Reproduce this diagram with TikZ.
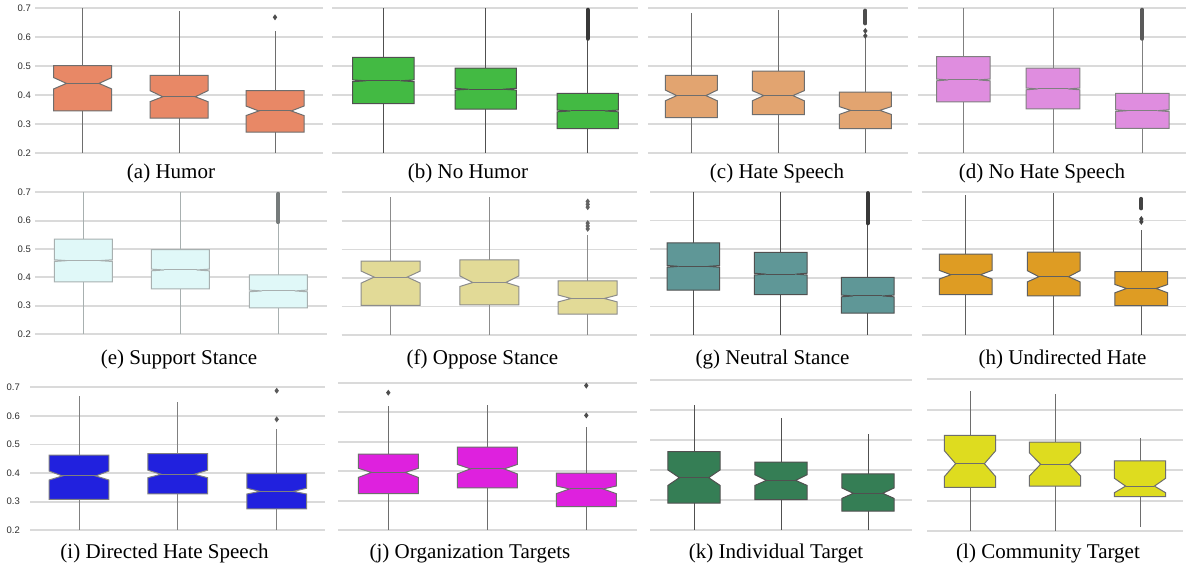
\documentclass[tikz,border=0pt]{standalone}
\usepackage{fontspec}
\setmainfont{Liberation Serif}
\newfontfamily\ticksf{Liberation Sans}
\definecolor{gridc}{HTML}{DADADA}
\definecolor{tickc}{HTML}{2E2E2E}
\definecolor{eA}{HTML}{6E6E6E}
\definecolor{eB}{HTML}{505050}
\definecolor{eC}{HTML}{808080}
\definecolor{eE}{HTML}{A8B0B0}
\definecolor{eF}{HTML}{8C8C8C}
\definecolor{eH}{HTML}{606060}
\definecolor{fa}{HTML}{E88866}
\definecolor{fb}{HTML}{43BA43}
\definecolor{fc}{HTML}{E2A470}
\definecolor{fd}{HTML}{DF8DDF}
\definecolor{fe}{HTML}{E0F8F8}
\definecolor{ff}{HTML}{E2DA97}
\definecolor{fg}{HTML}{5F9797}
\definecolor{fh}{HTML}{DE9C23}
\definecolor{fi}{HTML}{2121DE}
\definecolor{fj}{HTML}{DE21DE}
\definecolor{fk}{HTML}{357E55}
\definecolor{fl}{HTML}{DEDC1F}
\tikzset{
  gridl/.style={draw=gridc, line width=1.8pt},
  capt/.style={font=\fontsize{21}{24}\selectfont, anchor=base, inner sep=0pt},
  tickl/.style={font=\ticksf\fontsize{9.5}{11}\selectfont, text=tickc, anchor=east, inner sep=0pt},
}
\newcommand\setpanel[5]{\def\yb{#1}\def\pu{#2}\def\gxa{#3}\def\gxb{#4}\def\ec{#5}}
\newcommand\gridlines{%
  \foreach \v in {0.2,0.3,0.4,0.5,0.6,0.7}{%
    \pgfmathsetmacro\gy{\yb-(\v-0.2)*\pu}
    \draw[gridl] (\gxa,\gy) -- (\gxb,\gy);}}
\newcommand\ticklabels[2]{%
  \foreach \v/\n in {0.2/2,0.3/3,0.4/4,0.5/5,0.6/6,0.7/7}{%
    \pgfmathsetmacro\gy{\yb-(\v-0.2)*\pu}
    \node[tickl] (#2\n) at (#1,\gy) {\v};}}
\newcommand\bx[9]{%
  \pgfmathsetmacro\bxL{#1-#2}\pgfmathsetmacro\bxR{#1+#2}%
  \pgfmathsetmacro\bxLi{#1-0.56*#2}\pgfmathsetmacro\bxRi{#1+0.56*#2}%
  \pgfmathsetmacro\Yq{\yb-(#3-0.2)*\pu}\pgfmathsetmacro\Yqq{\yb-(#4-0.2)*\pu}%
  \pgfmathsetmacro\Ym{\yb-(#5-0.2)*\pu}\pgfmathsetmacro\Ynl{\yb-(#6-0.2)*\pu}%
  \pgfmathsetmacro\Ynh{\yb-(#7-0.2)*\pu}\pgfmathsetmacro\Ywl{\yb-(#8-0.2)*\pu}%
  \pgfmathsetmacro\Ywh{\yb-(#9-0.2)*\pu}%
  \draw[draw=\ec, line width=1pt] (#1,\Yqq) -- (#1,\Ywh);
  \draw[draw=\ec, line width=1pt] (#1,\Yq) -- (#1,\Ywl);
  \filldraw[fill=\bxfill, draw=\ec, line width=1pt, line join=miter]
    (\bxL,\Yq) -- (\bxL,\Ynl) -- (\bxLi,\Ym) -- (\bxL,\Ynh) -- (\bxL,\Yqq)
    -- (\bxR,\Yqq) -- (\bxR,\Ynh) -- (\bxRi,\Ym) -- (\bxR,\Ynl) -- (\bxR,\Yq) -- cycle;
  \draw[draw=\ec, line width=1pt] (\bxLi,\Ym) -- (\bxRi,\Ym);}
\newcommand\fl[2]{%
  \pgfmathsetmacro\fy{\yb-(#2-0.2)*\pu}%
  \fill[\ec!70!black] ({#1},{\fy-3}) -- ({#1+2.2},\fy) -- ({#1},{\fy+3}) -- ({#1-2.2},\fy) -- cycle;}
\newcommand\dn[3]{%
  \pgfmathsetmacro\fya{\yb-(#2-0.2)*\pu}\pgfmathsetmacro\fyb{\yb-(#3-0.2)*\pu}%
  \draw[\ec!70!black, line width=4pt, line cap=round] (#1,\fya) -- (#1,\fyb);}
\begin{document}
\begin{tikzpicture}[x=1pt,y=-1pt]
\fill[white] (0,0) rectangle (1186,567);
\useasboundingbox (0,0) rectangle (1186,567);
% ---------- (a)
\setpanel{153.3}{290}{35}{323}{eA}\def\bxfill{fa}
\gridlines \ticklabels{31}{ta}
\bx{82.7}{29}{0.346}{0.502}{0.441}{0.422}{0.461}{0.2}{0.7}
\bx{179}{29}{0.321}{0.469}{0.395}{0.378}{0.416}{0.2}{0.69}
\bx{275}{29}{0.273}{0.416}{0.346}{0.330}{0.363}{0.2}{0.62}
\fl{275}{0.669}
\node[capt] (capa) at (171,178.7) {(a) Humor};
% ---------- (b)
\setpanel{153.3}{290}{332}{638}{eB}\def\bxfill{fb}
\gridlines
\bx{383.3}{30.7}{0.371}{0.531}{0.450}{0.447}{0.453}{0.2}{0.7}
\bx{485.7}{30.7}{0.352}{0.494}{0.421}{0.418}{0.424}{0.2}{0.7}
\bx{587.7}{30.7}{0.285}{0.407}{0.346}{0.343}{0.349}{0.2}{0.59}
\dn{587.7}{0.595}{0.695}
\node[capt] (capb) at (468,178.7) {(b) No Humor};
% ---------- (c)
\setpanel{153.3}{290}{648}{908}{eA}\def\bxfill{fc}
\gridlines
\bx{691.3}{26}{0.323}{0.469}{0.399}{0.381}{0.418}{0.2}{0.685}
\bx{778.3}{26}{0.333}{0.483}{0.399}{0.381}{0.416}{0.2}{0.694}
\bx{865.3}{26}{0.285}{0.411}{0.348}{0.334}{0.361}{0.2}{0.597}
\dn{865.3}{0.648}{0.692}\fl{865.3}{0.622}\fl{865.3}{0.605}
\node[capt] (capc) at (777,178.7) {(c) Hate Speech};
% ---------- (d)
\setpanel{153.3}{290}{918}{1186}{eC}\def\bxfill{fd}
\gridlines
\bx{963.3}{26.8}{0.377}{0.533}{0.453}{0.450}{0.456}{0.2}{0.7}
\bx{1053}{26.8}{0.353}{0.494}{0.422}{0.419}{0.425}{0.2}{0.7}
\bx{1142.3}{26.8}{0.286}{0.407}{0.347}{0.344}{0.350}{0.2}{0.59}
\dn{1142.3}{0.595}{0.695}
\node[capt] (capd) at (1042,178.7) {(d) No Hate Speech};
% ---------- (e)
\setpanel{334}{283.3}{35}{326.7}{eE}\def\bxfill{fe}
\gridlines \ticklabels{31}{te}
\bx{83.3}{29}{0.384}{0.535}{0.459}{0.456}{0.462}{0.2}{0.7}
\bx{180.3}{29}{0.359}{0.498}{0.426}{0.423}{0.429}{0.2}{0.7}
\bx{278.3}{29}{0.292}{0.409}{0.352}{0.349}{0.355}{0.2}{0.59}
\dn{278.3}{0.595}{0.695}
\node[capt] (cape) at (179,364.5) {(e) Support Stance};
% ---------- (f)
\setpanel{335}{285.3}{341.7}{637.3}{eF}\def\bxfill{ff}
\gridlines
\bx{390.7}{29.5}{0.304}{0.459}{0.403}{0.382}{0.424}{0.2}{0.684}
\bx{489.3}{29.5}{0.306}{0.463}{0.384}{0.370}{0.407}{0.2}{0.684}
\bx{587.7}{29.5}{0.273}{0.390}{0.328}{0.316}{0.340}{0.2}{0.552}
\fl{587.7}{0.668}\fl{587.7}{0.658}\fl{587.7}{0.648}
\fl{587.7}{0.592}\fl{587.7}{0.582}\fl{587.7}{0.572}
\node[capt] (capf) at (482.5,364.5) {(f) Oppose Stance};
% ---------- (g)
\setpanel{335.3}{287.2}{650}{911.7}{eB}\def\bxfill{fg}
\gridlines
\bx{693.3}{26.3}{0.357}{0.522}{0.440}{0.437}{0.443}{0.2}{0.7}
\bx{780.7}{26.3}{0.342}{0.489}{0.413}{0.410}{0.416}{0.2}{0.7}
\bx{867.7}{26.3}{0.277}{0.402}{0.337}{0.334}{0.340}{0.2}{0.584}
\dn{867.7}{0.59}{0.695}
\node[capt] (capg) at (772.5,364.5) {(g) Neutral Stance};
% ---------- (h)
\setpanel{335.3}{287.2}{921.7}{1186}{eH}\def\bxfill{fh}
\gridlines
\bx{965.7}{26.4}{0.342}{0.483}{0.411}{0.396}{0.426}{0.2}{0.687}
\bx{1053.7}{26.4}{0.337}{0.490}{0.404}{0.386}{0.425}{0.2}{0.694}
\bx{1141.3}{26.4}{0.303}{0.422}{0.363}{0.348}{0.377}{0.2}{0.568}
\dn{1141.3}{0.642}{0.675}\fl{1141.3}{0.605}\fl{1141.3}{0.595}
\node[capt] (caph) at (1062.5,364.5) {(h) Undirected Hate};
% ---------- (i)
\setpanel{530.3}{286}{30}{325}{eC}\def\bxfill{fi}
\gridlines \ticklabels{20}{ti}
\bx{79}{29.8}{0.308}{0.463}{0.390}{0.376}{0.407}{0.2}{0.671}
\bx{177.7}{29.8}{0.327}{0.468}{0.396}{0.384}{0.410}{0.2}{0.648}
\bx{276.7}{29.8}{0.275}{0.398}{0.336}{0.327}{0.347}{0.2}{0.553}
\fl{276.7}{0.688}\fl{276.7}{0.588}
\node[capt] (capi) at (164.5,558.3) {(i) Directed Hate Speech};
% ---------- (j)
\setpanel{530.3}{295.3}{338.3}{636.7}{eA}\def\bxfill{fj}
\gridlines
\bx{388.3}{30}{0.324}{0.458}{0.396}{0.379}{0.410}{0.2}{0.621}
\bx{487.3}{30}{0.344}{0.482}{0.408}{0.391}{0.423}{0.2}{0.624}
\bx{586.3}{30}{0.280}{0.394}{0.340}{0.324}{0.350}{0.2}{0.551}
\fl{388.3}{0.666}\fl{586.3}{0.690}\fl{586.3}{0.589}
\node[capt] (capj) at (470,558.3) {(j) Organization Targets};
% ---------- (k)
\setpanel{530.3}{300.7}{650}{911.7}{eB}\def\bxfill{fk}
\gridlines
\bx{694}{26.2}{0.290}{0.462}{0.375}{0.349}{0.401}{0.2}{0.617}
\bx{781}{26.2}{0.302}{0.427}{0.366}{0.349}{0.385}{0.2}{0.575}
\bx{868}{26.2}{0.264}{0.388}{0.323}{0.306}{0.341}{0.2}{0.520}
\node[capt] (capk) at (776,558.3) {(k) Individual Target};
% ---------- (l)
\setpanel{531}{303.3}{927.3}{1183}{eA}\def\bxfill{fl}
\gridlines
\bx{970}{25.7}{0.344}{0.515}{0.422}{0.379}{0.465}{0.2}{0.663}
\bx{1055}{25.7}{0.348}{0.493}{0.420}{0.381}{0.458}{0.2}{0.651}
\bx{1140}{25.7}{0.313}{0.431}{0.348}{0.326}{0.374}{0.213}{0.508}
\node[capt] (capl) at (1048,558.3) {(l) Community Target};
\end{tikzpicture}
\end{document}
